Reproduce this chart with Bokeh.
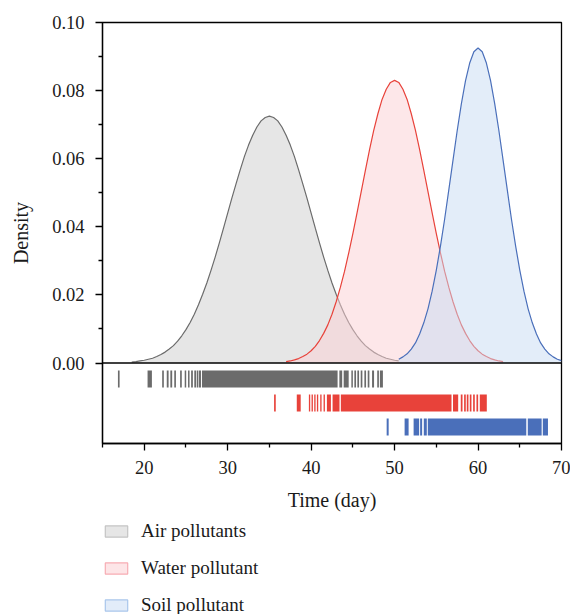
from bokeh.plotting import figure
from bokeh.layouts import column
from bokeh.models import (Range1d, FixedTicker, Span, Legend, LegendItem,
                          ColumnDataSource, PrintfTickFormatter)
from bokeh.embed import file_html
from bokeh.resources import INLINE

# ---------------- data ----------------
# density curves, sampled every 0.5 day
air_day = [18.5 + 0.5 * i for i in range(65)]
air_density = [0.0003, 0.0004, 0.0006, 0.0008, 0.0011, 0.0014, 0.0019, 0.0025,
               0.0032, 0.0041, 0.0051, 0.0064, 0.0080, 0.0098, 0.0119, 0.0143,
               0.0171, 0.0202, 0.0235, 0.0272, 0.0311, 0.0353, 0.0396, 0.0440,
               0.0484, 0.0526, 0.0567, 0.0606, 0.0640, 0.0669, 0.0693, 0.0711,
               0.0721, 0.0725, 0.0721, 0.0711, 0.0693, 0.0669, 0.0640, 0.0606,
               0.0567, 0.0526, 0.0484, 0.0440, 0.0396, 0.0353, 0.0311, 0.0272,
               0.0235, 0.0202, 0.0171, 0.0143, 0.0119, 0.0098, 0.0080, 0.0064,
               0.0051, 0.0041, 0.0032, 0.0025, 0.0019, 0.0014, 0.0011, 0.0008,
               0.0006]

water_day = [37.0 + 0.5 * i for i in range(53)]
water_density = [0.0004, 0.0006, 0.0009, 0.0013, 0.0019, 0.0026, 0.0036, 0.0049,
                 0.0066, 0.0087, 0.0112, 0.0143, 0.0180, 0.0222, 0.0269, 0.0323,
                 0.0380, 0.0441, 0.0503, 0.0566, 0.0627, 0.0683, 0.0732, 0.0774,
                 0.0804, 0.0824, 0.0830, 0.0824, 0.0804, 0.0774, 0.0732, 0.0683,
                 0.0627, 0.0566, 0.0503, 0.0441, 0.0380, 0.0323, 0.0269, 0.0222,
                 0.0180, 0.0143, 0.0112, 0.0087, 0.0066, 0.0049, 0.0036, 0.0026,
                 0.0019, 0.0013, 0.0009, 0.0006, 0.0004]

soil_day = [50.5 + 0.5 * i for i in range(40)]
soil_density = [0.0011, 0.0018, 0.0027, 0.0041, 0.0059, 0.0085, 0.0118, 0.0159,
                0.0211, 0.0273, 0.0344, 0.0423, 0.0509, 0.0596, 0.0682, 0.0761,
                0.0829, 0.0881, 0.0914, 0.0925, 0.0914, 0.0881, 0.0829, 0.0761,
                0.0682, 0.0596, 0.0509, 0.0423, 0.0344, 0.0273, 0.0211, 0.0159,
                0.0118, 0.0085, 0.0059, 0.0041, 0.0027, 0.0018, 0.0011, 0.0007]

# rug observations, as runs [start, end] of observed days
air_rug_start = [16.85, 20.40, 22.15, 22.70, 23.13, 23.60, 24.30, 24.85, 25.25,
                 25.62, 26.00, 26.30, 26.55, 26.92, 43.38, 43.90, 44.82, 45.18,
                 45.54, 45.94, 46.38, 46.78, 47.30, 47.92, 48.24]
air_rug_end = [17.05, 20.92, 22.35, 22.92, 23.35, 23.80, 24.50, 25.03, 25.43,
               25.83, 26.22, 26.48, 26.80, 43.17, 43.72, 44.50, 45.00, 45.38,
               45.74, 46.14, 46.58, 46.98, 47.54, 48.12, 48.60]

water_rug_start = [35.56, 38.28, 39.73, 40.05, 40.37, 40.69, 41.09, 41.49, 41.89,
                   42.57, 43.56, 57.00, 57.93, 58.33, 58.65, 59.01, 59.41, 59.81,
                   60.21]
water_rug_end = [35.76, 38.75, 39.89, 40.21, 40.53, 40.85, 41.25, 41.65, 42.37,
                 43.40, 56.82, 57.62, 58.14, 58.53, 58.85, 59.21, 59.61, 60.01,
                 61.05]

soil_rug_start = [49.05, 51.20, 52.28, 53.06, 53.50, 53.98, 65.96, 67.76]
soil_rug_end = [49.29, 51.68, 52.94, 53.30, 53.86, 65.78, 67.62, 68.38]

series_names = ["Air pollutants", "Water pollutant", "Soil pollutant"]
x_major = [20, 30, 40, 50, 60, 70]
x_minor = [15, 25, 35, 45, 55, 65]
y_major = [0.0, 0.02, 0.04, 0.06, 0.08, 0.10]
y_minor = [0.01, 0.03, 0.05, 0.07, 0.09]

# ---------------- styles ----------------
FONT = "Liberation Serif"
line_cols = ["#6b6b6b", "#e8423a", "#4a6fba"]
fill_cols = ["#cdcdcd", "#fbcfd3", "#c7dbf3"]
leg_fill = ["#e6e6e6", "#fde5e7", "#e2ecf9"]
leg_line = ["#c4c4c4", "#f7acb3", "#a9c6ec"]
rug_rows = [(-0.0022, -0.0072), (-0.00925, -0.01424), (-0.0163, -0.0213)]

p = figure(width=570, height=520, output_backend="svg", toolbar_location=None,
           x_range=Range1d(15, 70), y_range=Range1d(-0.02364, 0.10),
           min_border_left=102, min_border_right=9, min_border_top=22,
           min_border_bottom=77, x_axis_label="Time (day)", y_axis_label="Density")
p.xgrid.visible = False
p.ygrid.visible = False
p.outline_line_color = "black"
p.outline_line_width = 1.3
p.background_fill_color = "white"
p.border_fill_color = "white"

curves = [(air_day, air_density), (water_day, water_density), (soil_day, soil_density)]
rugs = [(air_rug_start, air_rug_end), (water_rug_start, water_rug_end),
        (soil_rug_start, soil_rug_end)]

# separate small figure that only carries the legend (below the chart)
lg = figure(width=570, height=94, output_backend="svg", toolbar_location=None,
            x_range=Range1d(0, 1), y_range=Range1d(0, 1),
            min_border_left=101, min_border_right=0,
            min_border_top=0, min_border_bottom=0)
lg.axis.visible = False
lg.grid.visible = False
lg.outline_line_color = None
lg.background_fill_color = "white"
lg.border_fill_color = "white"

legend_items = []
for i, ((xd, yd), (rs, re)) in enumerate(zip(curves, rugs)):
    src = ColumnDataSource(dict(x=xd, y=yd))
    p.varea(x="x", y1=0, y2="y", source=src, fill_color=fill_cols[i], fill_alpha=0.5)
    p.line(x="x", y="y", source=src, line_color=line_cols[i], line_width=1.2)
    top, bottom = rug_rows[i]
    p.quad(left=rs, right=re, top=top, bottom=bottom, fill_color=line_cols[i],
           line_color=None)
    # legend swatch carrier, kept outside the legend figure's visible range
    dummy = lg.quad(left=[5], right=[6], top=[6], bottom=[5], fill_color=leg_fill[i],
                    line_color=leg_line[i], line_width=1.2)
    legend_items.append(LegendItem(label=series_names[i], renderers=[dummy]))

p.add_layout(Span(location=0, dimension="width", line_color="black", line_width=1.6))

for ax in (p.xaxis[0], p.yaxis[0]):
    ax.axis_line_width = 1.3
    ax.axis_line_color = "black"
    ax.major_tick_line_width = 1.3
    ax.minor_tick_line_width = 1.3
    ax.major_tick_line_color = "black"
    ax.minor_tick_line_color = "black"
    ax.major_tick_in = 0
    ax.minor_tick_in = 0
    ax.major_tick_out = 7
    ax.minor_tick_out = 4
    ax.major_label_text_font = FONT
    ax.major_label_text_font_size = "18.5px"
    ax.major_label_text_font_style = "normal"
    ax.major_label_text_color = "#1a1a1a"
    ax.axis_label_text_font = FONT
    ax.axis_label_text_font_size = "20px"
    ax.axis_label_text_font_style = "normal"
    ax.axis_label_text_color = "#1a1a1a"

p.xaxis[0].ticker = FixedTicker(ticks=x_major, minor_ticks=x_minor)
p.yaxis[0].ticker = FixedTicker(ticks=y_major, minor_ticks=y_minor)
p.yaxis[0].formatter = PrintfTickFormatter(format="%.2f")
p.yaxis[0].major_label_standoff = 11
p.xaxis[0].major_label_standoff = 10
p.yaxis[0].axis_label_standoff = 17
p.xaxis[0].axis_label_standoff = 12

legend = Legend(items=legend_items, location="top_left", orientation="vertical",
                glyph_width=28, glyph_height=14, label_standoff=11, spacing=15,
                label_height=21, padding=0, margin=0, border_line_color=None,
                background_fill_alpha=0, label_text_font=FONT,
                label_text_font_size="19px", label_text_color="#1a1a1a")
lg.add_layout(legend, "center")

layout = column(p, lg, spacing=0)
open("out.html", "w").write(file_html(layout, INLINE))
